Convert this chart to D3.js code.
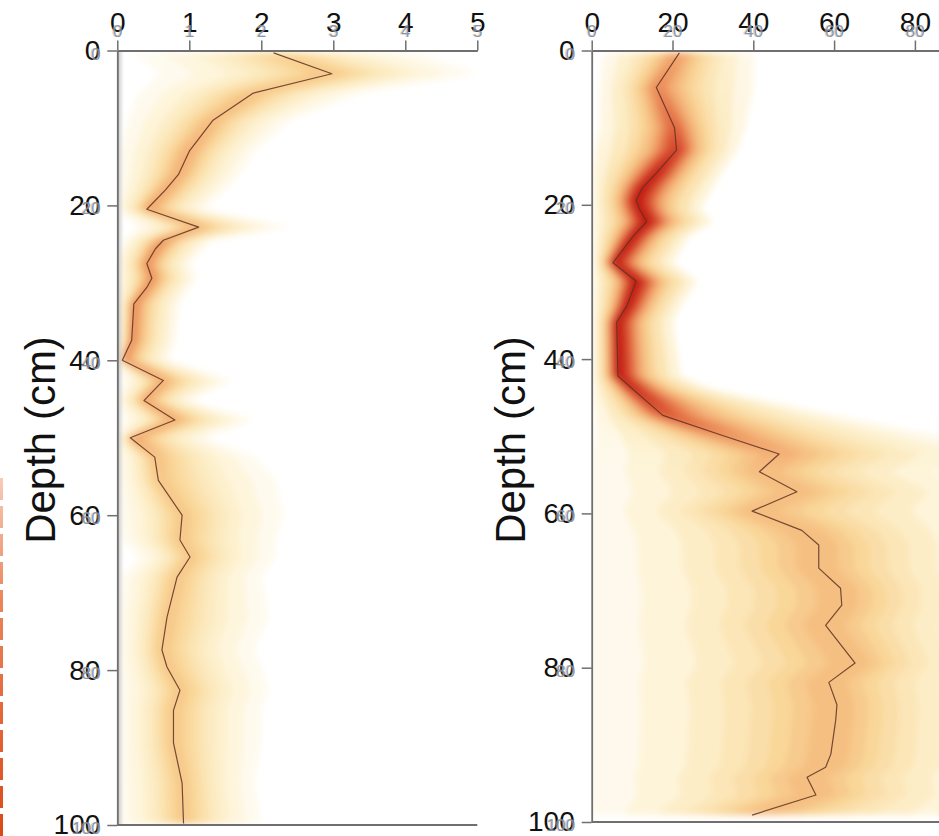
<!DOCTYPE html>
<html>
<head>
<meta charset="utf-8">
<script src="https://cdn.jsdelivr.net/npm/d3@7"></script>
<style>
  html, body { margin: 0; padding: 0; background: #fff; }
  svg { display: block; font-family: "Liberation Sans", Arial, sans-serif; }
</style>
</head>
<body>
<svg id="chart" width="939" height="836"></svg>
<script>
// ---- Panel A: values 0–5 ----
const depthA = [0.3, 3, 5.5, 9, 13, 16, 18, 20.5, 22.8, 24.5, 25.6, 27.5, 29.4, 30.6, 32.7, 37.4, 40, 42.6, 45.2, 47.7, 50, 52.5, 55.5, 60, 63.2, 65.4, 68, 73.2, 77.4, 79.6, 82.6, 85.2, 89.4, 94.6, 99.8];
const medA   = [2.17, 2.98, 1.89, 1.33, 1.0, 0.85, 0.67, 0.41, 1.13, 0.64, 0.53, 0.41, 0.48, 0.41, 0.23, 0.2, 0.07, 0.64, 0.37, 0.8, 0.18, 0.52, 0.57, 0.9, 0.87, 1.01, 0.83, 0.69, 0.62, 0.69, 0.87, 0.78, 0.78, 0.9, 0.92];
const loA    = [0.2, 0.6, 0.3, 0.15, 0.05, 0.03, 0.02, 0, 0.3, 0.1, 0.05, 0, 0, 0, 0, 0, 0, 0.1, 0, 0.1, 0, 0, 0, 0, 0.05, 0.3, 0.05, 0, 0, 0, 0, 0, 0, 0, 0];
const hiA    = [4.2, 5.0, 3.4, 2.4, 1.9, 1.7, 1.5, 1.2, 2.4, 1.3, 1.2, 1.0, 1.1, 1.0, 0.85, 0.8, 0.7, 1.6, 1.0, 1.9, 1.2, 1.9, 2.2, 2.3, 2.2, 2.2, 2.0, 2.1, 1.9, 2.0, 2.1, 2.0, 2.0, 1.9, 2.0];
const heatA  = [0.35, 0.4, 0.42, 0.45, 0.5, 0.5, 0.52, 0.55, 0.45, 0.6, 0.6, 0.6, 0.6, 0.6, 0.62, 0.62, 0.62, 0.5, 0.55, 0.5, 0.55, 0.42, 0.4, 0.4, 0.4, 0.4, 0.4, 0.4, 0.4, 0.4, 0.4, 0.4, 0.4, 0.4, 0.4];
const xTicksA = [0, 1, 2, 3, 4, 5];

// ---- Panel B: values 0–100 ----
const depthB = [0.3, 4.8, 10, 12.9, 15.9, 17.7, 19.4, 20.6, 22.2, 24.1, 27.5, 29.9, 33.1, 35.2, 42.2, 43.9, 47.3, 49.9, 52.3, 54.6, 57.2, 59.7, 62.2, 64.1, 67.1, 69.7, 71.9, 74.5, 79.4, 81.9, 84.8, 86.8, 91.2, 92.9, 94.2, 96.5, 99.1];
const medB   = [21.7, 16, 20.5, 21, 16, 12.7, 11, 11.9, 13.6, 10.2, 5.3, 11, 8.7, 6.2, 6.5, 10.2, 17.6, 32.4, 46.4, 41.5, 50.8, 39.7, 52, 56.2, 56.2, 61.6, 61.9, 57.9, 65.2, 58.7, 60.7, 60.4, 59.2, 57.9, 53.3, 55.5, 39.7];
const loB    = [3, 2, 2, 1, 0.5, 0.5, 0.5, 0.5, 0.5, 0.5, 0.5, 0.5, 0.5, 0.5, 0.5, 0.5, 1, 1, 0, 0, 0, 0, 0, 0, 0, 0, 0, 0, 0, 0, 0, 0, 0, 0, 0, 0, 0];
const hiB    = [40, 40, 38, 36, 32, 30, 28, 27, 30, 24, 20, 26, 22, 20, 22, 30, 60, 85, 105, 95, 105, 105, 105, 105, 105, 105, 105, 105, 105, 105, 105, 105, 105, 105, 105, 105, 105];
const heatB  = [0.55, 0.62, 0.72, 0.85, 0.97, 1, 1, 1, 1, 1, 1, 1, 1, 1, 1, 0.92, 0.75, 0.6, 0.5, 0.45, 0.45, 0.45, 0.45, 0.45, 0.45, 0.45, 0.45, 0.45, 0.45, 0.45, 0.45, 0.45, 0.45, 0.45, 0.45, 0.45, 0.45];
const xTicksB = [0, 20, 40, 60, 80, 100];

const depthTicks = [0, 20, 40, 60, 80, 100];
const axisTitle = "Depth (cm)";

const svg = d3.select("#chart");
const defs = svg.append("defs");

// soft edges for the density shading
defs.append("filter").attr("id", "soft")
  .attr("x", "-10%").attr("y", "-5%").attr("width", "120%").attr("height", "110%")
  .append("feGaussianBlur").attr("stdDeviation", "3 3.5");

const heatColor = d3.scaleLinear()
  .domain([0, 0.15, 0.35, 0.55, 0.75, 1])
  .range(["#ffffff", "#fdf0cc", "#f9d596", "#f2a86e", "#df5f3a", "#c41e14"])
  .clamp(true);

// nested bands: fraction of the spread around the median, drawn outer to inner
const bandFrac = [1, 0.8, 0.6, 0.46, 0.35, 0.26, 0.18, 0.1];

const panels = [
  { id: "A", depth: depthA, med: medA, lo: loA, hi: hiA, heat: heatA, xTicks: xTicksA,
    x: d3.scaleLinear([0, 5], [117.3, 477.3]), y: d3.scaleLinear([0, 100], [50.5, 825]),
    right: 477.3, shadow: true, titleX: 55 },
  { id: "B", depth: depthB, med: medB, lo: loB, hi: hiB, heat: heatB, xTicks: xTicksB,
    x: d3.scaleLinear([0, 100], [591.7, 995.7]), y: d3.scaleLinear([0, 100], [50.5, 822]),
    right: 939, shadow: false, titleX: 525 }
];

panels.forEach(p => {
  const rows = p.depth.map((d, i) => ({ depth: d, med: p.med[i], lo: p.lo[i], hi: p.hi[i], heat: p.heat[i] }));
  const { x, y } = p;
  const x0 = x(0), y0 = y(0), y1 = y(100);

  defs.append("clipPath").attr("id", "clip" + p.id)
    .append("rect").attr("x", x0).attr("y", y0).attr("width", p.right - x0).attr("height", y1 - y0);

  // vertical colour gradients, one per band
  bandFrac.forEach((f, k) => {
    const level = (k + 1) / bandFrac.length;
    const g = defs.append("linearGradient").attr("id", `grad${p.id}${k}`)
      .attr("gradientUnits", "userSpaceOnUse")
      .attr("x1", 0).attr("x2", 0).attr("y1", y0).attr("y2", y1);
    rows.forEach(r => {
      g.append("stop")
        .attr("offset", (y(r.depth) - y0) / (y1 - y0))
        .attr("stop-color", heatColor(r.heat * level));
    });
  });

  const clipped = svg.append("g").attr("clip-path", `url(#clip${p.id})`);
  const shade = clipped.append("g").attr("filter", "url(#soft)");
  bandFrac.forEach((f, k) => {
    const area = d3.area()
      .y(d => y(d.depth))
      .x0(d => x(d.med - f * (d.med - d.lo)))
      .x1(d => x(d.med + f * (d.hi - d.med)));
    shade.append("path").datum(rows).attr("d", area).attr("fill", `url(#grad${p.id}${k})`);
  });

  if (p.shadow) {
    const sg = defs.append("linearGradient").attr("id", "shadow" + p.id);
    sg.append("stop").attr("offset", 0).attr("stop-color", "#a9a9a9").attr("stop-opacity", 0.8);
    sg.append("stop").attr("offset", 1).attr("stop-color", "#d0d0d0").attr("stop-opacity", 0);
    clipped.append("rect").attr("x", x0).attr("y", y0).attr("width", 7).attr("height", y1 - y0)
      .attr("fill", `url(#shadow${p.id})`);
  }

  // median profile
  clipped.append("path").datum(rows)
    .attr("d", d3.line().x(d => x(d.med)).y(d => y(d.depth)))
    .attr("fill", "none").attr("stroke", "#5e3222").attr("stroke-width", 1.2)
    .attr("stroke-opacity", 0.85).attr("stroke-linejoin", "round");

  // axes
  const axTop = svg.append("g").attr("transform", `translate(0,${y0})`)
    .call(d3.axisTop(x).tickValues(p.xTicks).tickFormat(d => String(d))
      .tickSize(10).tickSizeOuter(0).tickPadding(9));
  const axLeft = svg.append("g").attr("transform", `translate(${x0},0)`)
    .call(d3.axisLeft(y).tickValues(depthTicks).tickFormat(d => String(d))
      .tickSize(10).tickSizeOuter(0).tickPadding(7));
  [axTop, axLeft].forEach(ax => {
    ax.select(".domain").attr("stroke", "#6f6f6f").attr("stroke-width", 1.8);
    ax.selectAll(".tick line").attr("stroke", "#6f6f6f").attr("stroke-width", 1.5);
    ax.selectAll(".tick text").attr("font-size", 28).attr("fill", "#111")
      .attr("font-family", "'Liberation Sans', Arial, sans-serif");
  });
  svg.append("line").attr("x1", x0).attr("x2", Math.min(p.right, x(d3.max(p.xTicks))))
    .attr("y1", y1).attr("y2", y1).attr("stroke", "#6f6f6f").attr("stroke-width", 1.8);

  // smaller secondary tick labels
  const small = (sel, dx, color, op) => sel
    .attr("font-size", 17).attr("fill", color).attr("fill-opacity", op).attr("dx", dx);
  [["#e4a45e", -0.8, 0.55], ["#6f8fb6", 0.4, 0.9]].forEach(([c, dx, op]) => {
    small(svg.append("g").selectAll("text").data(p.xTicks).join("text")
      .attr("x", d => x(d)).attr("y", y0 - 14).attr("text-anchor", "middle").text(d => d), dx, c, op);
    small(svg.append("g").selectAll("text").data(depthTicks).join("text")
      .attr("x", x0 - 17).attr("y", d => y(d) + 9).attr("text-anchor", "end").text(d => d), dx, c, op);
  });

  // axis title
  svg.append("text")
    .attr("transform", `translate(${p.titleX},440) rotate(-90)`)
    .attr("text-anchor", "middle").attr("font-size", 42).attr("fill", "#111")
    .text(axisTitle);
});

// dashed guide at the left edge
const dg = defs.append("linearGradient").attr("id", "dashGrad")
  .attr("gradientUnits", "userSpaceOnUse").attr("x1", 0).attr("x2", 0).attr("y1", 478).attr("y2", 836);
[[0, "#f7cbb9"], [0.35, "#ea8458"], [1, "#dc4818"]].forEach(([o, c]) =>
  dg.append("stop").attr("offset", o).attr("stop-color", c));
svg.append("line").attr("x1", 1.5).attr("x2", 1.5).attr("y1", 478).attr("y2", 836)
  .attr("stroke", "url(#dashGrad)").attr("stroke-width", 3).attr("stroke-dasharray", "22 6");
</script>
</body>
</html>
